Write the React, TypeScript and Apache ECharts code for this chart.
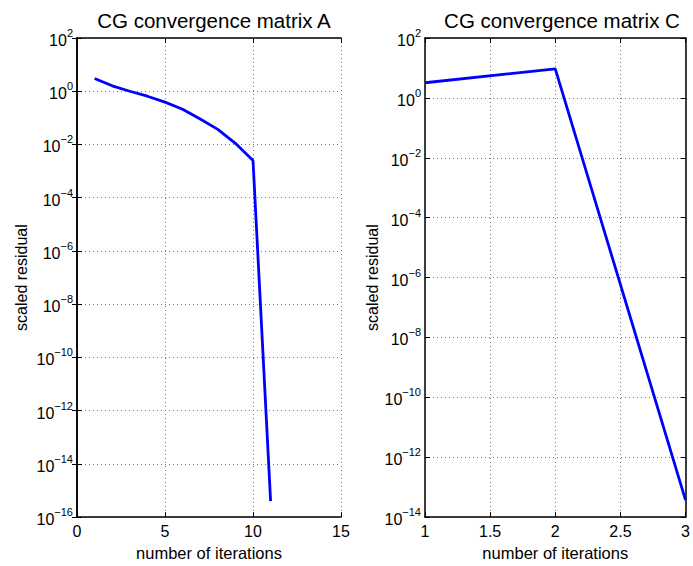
import React, { useEffect, useRef } from "react";
import * as echarts from "echarts";

const iterA = [1, 2, 3, 4, 5, 6, 7, 8, 9, 10, 11];
const residA = [3.0, 1.6, 1.0, 0.65, 0.39, 0.21, 0.091, 0.037, 0.011, 0.0025, 4e-16];
const iterC = [1, 2, 3];
const residC = [3.2, 9.3, 3.7e-14];
const titles = ["CG convergence matrix A", "CG convergence matrix C"];
const xName = "number of iterations";
const yName = "scaled residual";

const FONT = "Liberation Sans, Arial, Helvetica, sans-serif";

function logLabel(v: number) {
  const e = Math.round(Math.log10(v));
  const s = e < 0 ? "\u2212" + Math.abs(e) : String(e);
  return `{b|10}{s|${s}}`;
}

const rich = {
  b: { fontSize: 16, fontFamily: FONT, color: "#000", verticalAlign: "bottom" },
  s: { fontSize: 11, fontFamily: FONT, color: "#000", verticalAlign: "bottom", padding: [0, 0, 10, 0] },
};

export default function App() {
  const ref = useRef<HTMLDivElement>(null);
  useEffect(() => {
    const chart = echarts.init(ref.current!, null, { renderer: "svg" });
    const grid = [
      { left: 77, right: 352, top: 38, bottom: 46 },
      { left: 425, right: 4, top: 38, bottom: 46 },
    ];
    const split = { show: true, lineStyle: { color: "#777", type: [1, 3] as any, width: 1 } };
    const line = { show: true, lineStyle: { color: "#000", width: 1.5 } };
    const tick = { show: true, inside: true, length: 5, lineStyle: { color: "#000" } };
    const xRanges = [
      { min: 0, max: 15, interval: 5 },
      { min: 1, max: 3, interval: 0.5 },
    ];
    const yRanges = [
      { min: 1e-16, max: 1e2, interval: 2 },
      { min: 1e-14, max: 1e2, interval: 2 },
    ];
    const xAxis: any[] = [];
    const yAxis: any[] = [];
    [0, 1].forEach((g) => {
      xAxis.push({
        type: "value",
        gridIndex: g,
        position: "bottom",
        ...xRanges[g],
        name: xName,
        nameLocation: "middle",
        nameGap: 26,
        nameTextStyle: { fontSize: 16.5, fontFamily: FONT, color: "#000" },
        axisLine: line,
        axisTick: tick,
        splitLine: split,
        axisLabel: { fontSize: 16, fontFamily: FONT, color: "#000", margin: 6 },
      });
      xAxis.push({
        type: "value",
        gridIndex: g,
        position: "top",
        ...xRanges[g],
        axisLine: line,
        axisTick: tick,
        splitLine: { show: false },
        axisLabel: { show: false },
      });
      yAxis.push({
        type: "log",
        logBase: 10,
        gridIndex: g,
        position: "left",
        ...yRanges[g],
        name: yName,
        nameLocation: "middle",
        nameGap: g === 0 ? 48 : 42,
        nameTextStyle: { fontSize: 16, fontFamily: FONT, color: "#000" },
        axisLine: line,
        axisTick: tick,
        splitLine: split,
        minorTick: { show: false },
        axisLabel: { formatter: logLabel, rich, margin: 4 },
      });
      yAxis.push({
        type: "log",
        logBase: 10,
        gridIndex: g,
        position: "right",
        ...yRanges[g],
        axisLine: line,
        axisTick: tick,
        splitLine: { show: false },
        axisLabel: { show: false },
      });
    });
    chart.setOption({
      animation: false,
      backgroundColor: "#fff",
      title: [
        {
          text: titles[0],
          left: 209,
          top: 5,
          textAlign: "center",
          textStyle: { fontSize: 20.5, fontWeight: "normal", fontFamily: FONT, color: "#000" },
        },
        {
          text: titles[1],
          left: 557,
          top: 5,
          textAlign: "center",
          textStyle: { fontSize: 20.5, fontWeight: "normal", fontFamily: FONT, color: "#000" },
        },
      ],
      grid,
      xAxis,
      yAxis,
      series: [
        {
          type: "line",
          xAxisIndex: 0,
          yAxisIndex: 0,
          data: iterA.map((x, i) => [x, residA[i]]),
          showSymbol: false,
          symbol: "none",
          lineStyle: { color: "#0000ff", width: 2.8 },
        },
        {
          type: "line",
          xAxisIndex: 2,
          yAxisIndex: 2,
          data: iterC.map((x, i) => [x, residC[i]]),
          showSymbol: false,
          symbol: "none",
          lineStyle: { color: "#0000ff", width: 2.8 },
        },
      ],
    });
    return () => chart.dispose();
  }, []);
  return <div ref={ref} style={{ width: 693, height: 566, position: "absolute", left: 0, top: 0 }} />;
}
